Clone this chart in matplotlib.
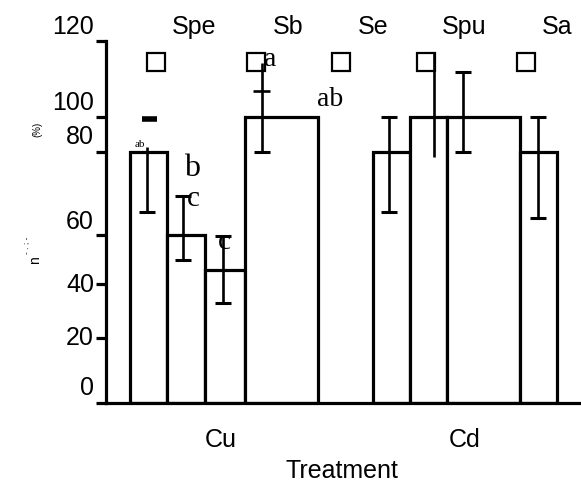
import matplotlib
matplotlib.use("Agg")
import matplotlib.pyplot as plt

plt.rcParams['font.family'] = ['Liberation Sans', 'DejaVu Sans']

# ---- data (survival %) ----
groups = ['Cu', 'Cd']
species = ['Spe', 'Sb', 'Se', 'Spu', 'Sa']
bar_vals = [87.8, 58.7, 46.5, 100, 87.8, 100, 100, 87.8]
err_low = [66.8, 50.0, 35.0, 87.8, 66.8, 86.0, 87.8, 64.7]
err_high = [89.5, 72.4, 58.4, 118.9, 100, 122.7, 115.7, 100]
cap_low = [True, True, True, True, True, False, True, True]
cap_high = [False, True, True, False, True, False, True, True]
sig_letters = ['ab', 'b', 'c', 'c', 'a', 'ab']
ytick_labels = ['0', '20', '40', '60', '80', '100', '120']

# ---- layout (x in pixel-like units of the original) ----
bar_left = [130, 167, 205, 245, 373, 410, 447, 520]
bar_w = [37, 38, 40, 73, 37, 37, 73, 37]
err_x = [147, 183, 223, 262, 389, 434, 463, 538]
tick_pos = [0, 22.7, 41.6, 58.7, 87.8, 100, 126.6]
label_pos = [5.6, 23.1, 41.6, 63.6, 93.4, 105.2, 131.8]
head_x = [194, 288, 373, 464, 557]
sq_x = [155.5, 256, 341, 425.5, 525.5]
letter_x = [140, 192, 193, 224, 270, 330]
letter_y = [90.6, 82.2, 71.7, 56.6, 120.6, 106.6]
letter_size = [8, 23, 21, 21, 20, 20]

fig = plt.figure(figsize=(5.81, 4.85), dpi=100)
ax = fig.add_axes([106/581, 81/485, 475/581, 404/485])
ax.set_xlim(106, 581)
ax.set_ylim(0, 404/2.86)

# bars
ax.bar(bar_left, bar_vals, width=bar_w, align='edge', color='white',
       edgecolor='black', linewidth=2.3, zorder=2)

# error bars (caps drawn only where the picture shows them)
ax.vlines(err_x, err_low, err_high, color='black', linewidth=1.9, zorder=3)
for x, lo, hi, cl, ch in zip(err_x, err_low, err_high, cap_low, cap_high):
    if cl:
        ax.hlines(lo, x - 8, x + 8, color='black', linewidth=2.2, zorder=3)
    if ch:
        ax.hlines(hi, x - 8, x + 8, color='black', linewidth=2.2, zorder=3)
# stray pieces
ax.hlines(99.3, 142, 157, color='black', linewidth=4, zorder=3)
ax.hlines(109.1, 253, 270, color='black', linewidth=1.9, zorder=3)

# species markers and header
ax.plot(sq_x, [119.4]*len(sq_x), 's', ms=13.5, mfc='white', mec='black',
        mew=1.6, clip_on=False, zorder=1)
for x, s in zip(head_x, species):
    ax.text(x, 131.8, s, ha='center', va='center', fontsize=18)

# significance letters
for x, y, t, fs in zip(letter_x, letter_y, sig_letters, letter_size):
    ax.text(x, y, t, ha='center', va='center', fontsize=fs,
            family='Liberation Serif', zorder=4)

# axes styling
for s in ['top', 'right']:
    ax.spines[s].set_visible(False)
ax.spines['left'].set_linewidth(2.3)
ax.spines['bottom'].set_linewidth(2.3)
ax.spines['left'].set_bounds(0, tick_pos[-1])
ax.set_yticks(tick_pos)
ax.set_yticklabels([])
ax.tick_params(axis='y', length=7.2, width=2.3)
for y, t in zip(label_pos, ytick_labels):
    ax.text(94, y, t, ha='right', va='center', fontsize=18)

ax.set_xticks([221, 465])
ax.set_xticklabels(groups, fontsize=18)
ax.tick_params(axis='x', length=0, pad=17)
ax.set_xlabel('Treatment', fontsize=18)
ax.xaxis.set_label_coords(342, -19.4, transform=ax.transData)

# garbled y label pieces
ax.text(37, 96, '(%)', rotation=90, ha='center', va='center', fontsize=7)
ax.text(35, 50.3, 'n', rotation=90, ha='center', va='center', fontsize=10)
ax.text(27, 55.5, '- . ; -', rotation=90, ha='center', va='center', fontsize=6)

fig.savefig('out.png', dpi=100)
